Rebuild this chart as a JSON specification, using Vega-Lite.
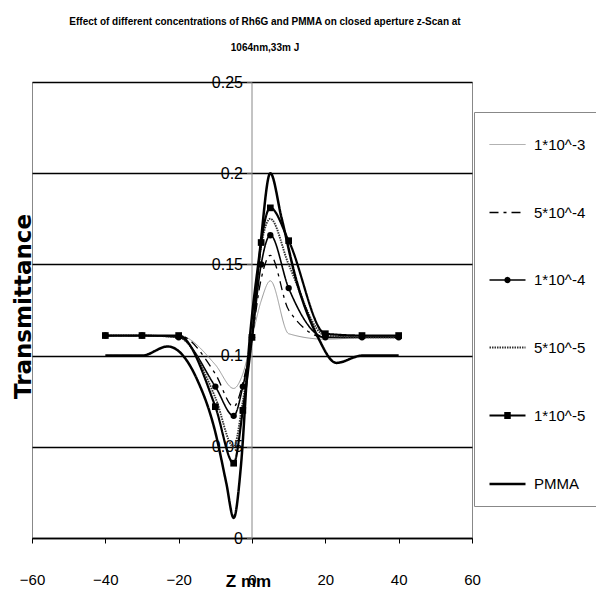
{
  "$schema": "https://vega.github.io/schema/vega-lite/v6.json",
  "width": 440,
  "height": 456,
  "autosize": {"type": "none"},
  "padding": {"left": 32, "top": 82, "right": 124, "bottom": 62},
  "background": "white",
  "title": {
    "text": ["Effect of different concentrations of Rh6G and PMMA on closed aperture z-Scan at", "1064nm,33m J"],
    "font": "Liberation Sans, Arial",
    "fontSize": 10,
    "fontWeight": "bold",
    "lineHeight": 26,
    "anchor": "middle",
    "dx": 13,
    "offset": 21,
    "color": "black"
  },
  "config": {
    "view": {"stroke": "#888888", "strokeWidth": 1},
    "font": "Liberation Sans, Arial"
  },
  "data": {
    "values": [
      {"s": "1*10^-3", "z": -40, "t": 0.111},
      {"s": "1*10^-3", "z": -30, "t": 0.111},
      {"s": "1*10^-3", "z": -20, "t": 0.111},
      {"s": "1*10^-3", "z": -10, "t": 0.095},
      {"s": "1*10^-3", "z": -5, "t": 0.082},
      {"s": "1*10^-3", "z": -2.5, "t": 0.09},
      {"s": "1*10^-3", "z": 0, "t": 0.11},
      {"s": "1*10^-3", "z": 2.5, "t": 0.13},
      {"s": "1*10^-3", "z": 5, "t": 0.141},
      {"s": "1*10^-3", "z": 10, "t": 0.112},
      {"s": "1*10^-3", "z": 20, "t": 0.109},
      {"s": "1*10^-3", "z": 30, "t": 0.11},
      {"s": "1*10^-3", "z": 40, "t": 0.111},

      {"s": "5*10^-4", "z": -40, "t": 0.111},
      {"s": "5*10^-4", "z": -30, "t": 0.111},
      {"s": "5*10^-4", "z": -20, "t": 0.111},
      {"s": "5*10^-4", "z": -10, "t": 0.09},
      {"s": "5*10^-4", "z": -5, "t": 0.072},
      {"s": "5*10^-4", "z": -2.5, "t": 0.085},
      {"s": "5*10^-4", "z": 0, "t": 0.11},
      {"s": "5*10^-4", "z": 2.5, "t": 0.142},
      {"s": "5*10^-4", "z": 5, "t": 0.155},
      {"s": "5*10^-4", "z": 10, "t": 0.125},
      {"s": "5*10^-4", "z": 20, "t": 0.11},
      {"s": "5*10^-4", "z": 30, "t": 0.11},
      {"s": "5*10^-4", "z": 40, "t": 0.11},

      {"s": "1*10^-4", "z": -40, "t": 0.111},
      {"s": "1*10^-4", "z": -30, "t": 0.111},
      {"s": "1*10^-4", "z": -20, "t": 0.11},
      {"s": "1*10^-4", "z": -10, "t": 0.083},
      {"s": "1*10^-4", "z": -5, "t": 0.067},
      {"s": "1*10^-4", "z": -2.5, "t": 0.083},
      {"s": "1*10^-4", "z": 0, "t": 0.11},
      {"s": "1*10^-4", "z": 2.5, "t": 0.15},
      {"s": "1*10^-4", "z": 5, "t": 0.166},
      {"s": "1*10^-4", "z": 10, "t": 0.137},
      {"s": "1*10^-4", "z": 20, "t": 0.11},
      {"s": "1*10^-4", "z": 30, "t": 0.11},
      {"s": "1*10^-4", "z": 40, "t": 0.11},

      {"s": "5*10^-5", "z": -40, "t": 0.111},
      {"s": "5*10^-5", "z": -30, "t": 0.111},
      {"s": "5*10^-5", "z": -20, "t": 0.11},
      {"s": "5*10^-5", "z": -10, "t": 0.077},
      {"s": "5*10^-5", "z": -5, "t": 0.05},
      {"s": "5*10^-5", "z": -2.5, "t": 0.075},
      {"s": "5*10^-5", "z": 0, "t": 0.11},
      {"s": "5*10^-5", "z": 2.5, "t": 0.16},
      {"s": "5*10^-5", "z": 5, "t": 0.175},
      {"s": "5*10^-5", "z": 10, "t": 0.15},
      {"s": "5*10^-5", "z": 20, "t": 0.111},
      {"s": "5*10^-5", "z": 30, "t": 0.11},
      {"s": "5*10^-5", "z": 40, "t": 0.11},

      {"s": "1*10^-5", "z": -40, "t": 0.111},
      {"s": "1*10^-5", "z": -30, "t": 0.111},
      {"s": "1*10^-5", "z": -20, "t": 0.111},
      {"s": "1*10^-5", "z": -10, "t": 0.072},
      {"s": "1*10^-5", "z": -5, "t": 0.041},
      {"s": "1*10^-5", "z": -2.5, "t": 0.07},
      {"s": "1*10^-5", "z": 0, "t": 0.11},
      {"s": "1*10^-5", "z": 2.5, "t": 0.162},
      {"s": "1*10^-5", "z": 5, "t": 0.181},
      {"s": "1*10^-5", "z": 10, "t": 0.163},
      {"s": "1*10^-5", "z": 20, "t": 0.112},
      {"s": "1*10^-5", "z": 30, "t": 0.111},
      {"s": "1*10^-5", "z": 40, "t": 0.111},

      {"s": "PMMA", "z": -40, "t": 0.1},
      {"s": "PMMA", "z": -30, "t": 0.1},
      {"s": "PMMA", "z": -23, "t": 0.105},
      {"s": "PMMA", "z": -15, "t": 0.087},
      {"s": "PMMA", "z": -10, "t": 0.058},
      {"s": "PMMA", "z": -7, "t": 0.03},
      {"s": "PMMA", "z": -5, "t": 0.011},
      {"s": "PMMA", "z": -3, "t": 0.04},
      {"s": "PMMA", "z": -1, "t": 0.1},
      {"s": "PMMA", "z": 2, "t": 0.155},
      {"s": "PMMA", "z": 5, "t": 0.2},
      {"s": "PMMA", "z": 8, "t": 0.176},
      {"s": "PMMA", "z": 12, "t": 0.142},
      {"s": "PMMA", "z": 18, "t": 0.11},
      {"s": "PMMA", "z": 23, "t": 0.096},
      {"s": "PMMA", "z": 30, "t": 0.1},
      {"s": "PMMA", "z": 40, "t": 0.1}
    ]
  },
  "encoding": {
    "x": {
      "field": "z", "type": "quantitative",
      "scale": {"domain": [-60, 60], "nice": false, "zero": false},
      "axis": {
        "values": [-60, -40, -20, 0, 20, 40, 60],
        "title": "Z  mm",
        "titleFont": "Liberation Sans, Arial",
        "titleFontSize": 17,
        "titleFontWeight": "bold",
        "titleColor": "black",
        "titleX": 216,
        "titleY": 43,
        "titleAlign": "center",
        "titleBaseline": "middle",
        "labelFontSize": 15,
        "labelColor": "black",
        "labelPadding": 29,
        "labelFlush": false,
        "domainColor": "black",
        "domainWidth": 1.5,
        "tickColor": "black",
        "tickSize": 5,
        "grid": false
      }
    },
    "y": {
      "field": "t", "type": "quantitative",
      "scale": {"domain": [0, 0.25], "nice": false},
      "axis": {
        "values": [0, 0.05, 0.1, 0.15, 0.2, 0.25],
        "format": "~g",
        "offset": -219.5,
        "title": "Transmittance",
        "titleFont": "DejaVu Sans",
        "titleFontSize": 23,
        "titleFontWeight": "bold",
        "titleColor": "black",
        "titleX": -228.5,
        "titleY": 224,
        "titleAngle": -90,
        "titleAlign": "center",
        "titleBaseline": "middle",
        "labelFontSize": 16,
        "labelColor": "black",
        "labelPadding": 4,
        "domainColor": "#888888",
        "domainWidth": 1,
        "tickColor": "#555555",
        "tickSize": 5,
        "grid": true,
        "gridColor": "black",
        "gridWidth": 1.5,
        "gridOpacity": 1
      }
    }
  },
  "layer": [
    {
      "mark": {"type": "line", "interpolate": "monotone"},
      "encoding": {
        "stroke": {
          "field": "s", "type": "nominal",
          "scale": {
            "domain": ["1*10^-3", "5*10^-4", "1*10^-4", "5*10^-5", "1*10^-5", "PMMA"],
            "range": ["#999999", "black", "black", "#333333", "black", "black"]
          },
          "legend": {
            "title": null,
            "orient": "none",
            "legendX": 442,
            "legendY": 30,
            "padding": 14,
            "rowPadding": 40.5,
            "strokeColor": "#888888",
            "fillColor": "white",
            "symbolSize": 1296,
            "labelFontSize": 15,
            "labelColor": "black",
            "labelOffset": 7,
            "labelFont": "Liberation Sans, Arial",
            "encode": {
              "symbols": {
                "update": {
                  "shape": {"signal": "datum.value === '1*10^-4' ? 'M-1,0H1M-0.13,0A0.13,0.13,0,1,1,0.13,0A0.13,0.13,0,1,1,-0.13,0Z' : datum.value === '1*10^-5' ? 'M-1,0H1M-0.12,-0.14H0.12V0.14H-0.12Z' : 'M-1,0H1'"},
                  "fill": {"signal": "datum.value === '1*10^-4' || datum.value === '1*10^-5' ? 'black' : 'transparent'"}
                }
              }
            }
          }
        },
        "strokeDash": {
          "field": "s", "type": "nominal",
          "scale": {
            "domain": ["1*10^-3", "5*10^-4", "1*10^-4", "5*10^-5", "1*10^-5", "PMMA"],
            "range": [[1, 0], [9, 5, 3, 5], [1, 0], [1.5, 1], [1, 0], [1, 0]]
          }
        },
        "strokeWidth": {
          "field": "s", "type": "nominal",
          "scale": {
            "domain": ["1*10^-3", "5*10^-4", "1*10^-4", "5*10^-5", "1*10^-5", "PMMA"],
            "range": [1, 2.5, 1.2, 2.5, 2, 3.5]
          }
        }
      }
    },
    {
      "transform": [{"filter": "datum.s === '1*10^-4'"}],
      "mark": {"type": "point", "shape": "circle", "filled": true, "color": "black", "size": 40, "opacity": 1}
    },
    {
      "transform": [{"filter": "datum.s === '1*10^-5'"}],
      "mark": {"type": "point", "shape": "square", "filled": true, "color": "black", "size": 45, "opacity": 1}
    }
  ]
}
